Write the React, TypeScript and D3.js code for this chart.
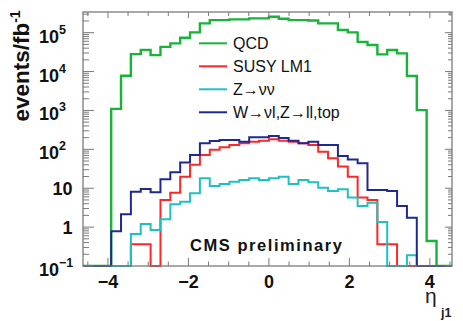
import React from 'react';
import * as d3 from 'd3';

// histogram binning (40 bins over [-4.9, 4.9])
const nBins = 40;
const etaLo = -4.9;
const etaHi = 4.9;

// events / fb^-1 per bin (0 = empty bin)
const qcd = [0, 0, 0, 0, 1100, 7800, 28000, 36000, 26500, 43000, 53000, 74000, 102000, 173000, 210000, 210000, 220000, 220000, 233000, 233000, 256000, 228000, 210000, 210000, 205000, 173000, 173000, 117000, 102000, 58000, 48000, 27700, 35700, 29400, 7660, 1020, 0.44, 0, 0, 0];
const susyLM1 = [0, 0, 0, 0, 0, 0, 0.36, 0.36, 0, 5.0, 7.7, 19.8, 40, 71, 98, 113, 129, 143, 157, 166, 181, 166, 157, 143, 129, 87, 59, 36, 19.8, 5.8, 5.0, 0.36, 0.36, 0, 0, 0, 0, 0, 0, 0];
const zNuNu = [0, 0, 0, 0, 0, 0, 0.67, 1.2, 0.84, 1.6, 3.9, 4.5, 7.4, 18, 11.4, 12.8, 14.7, 16.2, 18, 16.2, 18, 19.8, 12.8, 16.2, 14.2, 10.3, 8.5, 9.4, 5.8, 3.5, 4.2, 1.35, 0, 0, 0.19, 0, 0, 0, 0, 0];
const wzTop = [0, 0, 0, 0, 0.78, 2.15, 8.1, 9.5, 7.85, 16.9, 25.6, 46, 71, 143, 163, 173, 173, 157, 204, 204, 220, 195, 166, 143, 157, 129, 129, 67, 55, 44, 9.0, 9.0, 8.5, 3.5, 1.74, 0, 0, 0, 0, 0];

const seriesNames = ['QCD', 'SUSY LM1', 'Z\u2192\u03bd\u03bd', 'W\u2192\u03bdl,Z\u2192ll,top'];
const seriesColors = ['#19b33a', '#ff2626', '#1fc0bf', '#1e2a8e'];
const seriesData = [qcd, susyLM1, zNuNu, wzTop];

const xTicks = [-4, -2, 0, 2, 4];
const yTicks = [0.1, 1, 10, 100, 1000, 10000, 100000];
const yTickLabels = ['10^-1', '1', '10', '10^2', '10^3', '10^4', '10^5'];

const W = 463;
const H = 321;
const L = 83, R = 452, T = 12, B = 266;
const font = '"Liberation Sans", Arial, Helvetica, sans-serif';
const axisColor = '#7a7a7a';

export default function App() {
  const x = d3.scaleLinear().domain([-4.62, 4.55]).range([L, R]);
  const y = d3.scaleLog().domain([0.1, 3.4e5]).range([B, T]);
  const binW = (etaHi - etaLo) / nBins;

  const line = d3.line<[number, number]>()
    .x(d => x(d[0]))
    .y(d => y(Math.max(d[1], 0.1)));

  const stepPath = (vals: number[]) => {
    const pts: [number, number][] = [];
    vals.forEach((v, i) => {
      pts.push([etaLo + i * binW, v]);
      pts.push([etaLo + (i + 1) * binW, v]);
    });
    return line(pts) || '';
  };

  // log minor ticks
  const yMinor: number[] = [];
  yTicks.forEach(d => {
    for (let m = 2; m <= 9; m++) if (m * d < 3.4e5) yMinor.push(m * d);
  });
  const xMinor = d3.range(-4.5, 4.51, 0.5).filter(v => !xTicks.includes(v));

  return (
    <svg width={W} height={H} style={{ position: 'absolute', left: 0, top: 0, background: '#fff' }}
      fontFamily={font}>
      <defs>
        <clipPath id="frame">
          <rect x={L} y={T - 2} width={R - L} height={B - T + 3} />
        </clipPath>
      </defs>

      {/* histograms */}
      <g clipPath="url(#frame)" fill="none" strokeLinejoin="miter">
        {seriesData.map((s, i) => (
          <path key={i} d={stepPath(s)} stroke={seriesColors[i]} strokeWidth={i === 0 ? 2.4 : 2} />
        ))}
      </g>

      {/* frame */}
      <rect x={L} y={T} width={R - L} height={B - T} fill="none" stroke={axisColor} strokeWidth={1.3} />

      {/* ticks */}
      <g stroke={axisColor} strokeWidth={1}>
        {yTicks.map(t => (
          <g key={'ym' + t}>
            <line x1={L} x2={L + 11} y1={y(t)} y2={y(t)} />
            <line x1={R} x2={R - 7} y1={y(t)} y2={y(t)} />
          </g>
        ))}
        {yMinor.map(t => (
          <g key={'yn' + t}>
            <line x1={L} x2={L + 6} y1={y(t)} y2={y(t)} />
            <line x1={R} x2={R - 4} y1={y(t)} y2={y(t)} />
          </g>
        ))}
        {xTicks.map(t => (
          <g key={'xm' + t}>
            <line x1={x(t)} x2={x(t)} y1={B} y2={B - 8} />
            <line x1={x(t)} x2={x(t)} y1={T} y2={T + 6} />
          </g>
        ))}
        {xMinor.map(t => (
          <g key={'xn' + t}>
            <line x1={x(t)} x2={x(t)} y1={B} y2={B - 4.5} />
            <line x1={x(t)} x2={x(t)} y1={T} y2={T + 4} />
          </g>
        ))}
      </g>

      {/* y tick labels */}
      <g fontWeight="bold" fill="#111">
        {yTicks.map((t, i) => {
          const [base, exp] = yTickLabels[i].split('^');
          if (!exp) {
            return (
              <text key={t} x={72.5} y={y(t) + 6.5} textAnchor="end" fontSize={18}>{base}</text>
            );
          }
          return (
            <text key={t} x={39} y={y(t) + 10} fontSize={18}>
              {base}
              <tspan fontSize={12.5} dy={-9}>{exp.replace('-', '\u2212')}</tspan>
            </text>
          );
        })}
      </g>

      {/* x tick labels */}
      <g fontWeight="bold" fill="#111" fontSize={18} textAnchor="middle">
        {xTicks.map(t => (
          <text key={t} x={x(t)} y={288}>{t < 0 ? '\u2212' + Math.abs(t) : t}</text>
        ))}
      </g>

      {/* axis titles */}
      <text transform="translate(28.5,66) rotate(-90)" textAnchor="middle" fontWeight="bold" fontSize={22.5} fill="#111">
        events/fb<tspan fontSize={14} dy={-9}>-1</tspan>
      </text>
      <text x={425} y={303} fontSize={21} fill="#222">{'\u03b7'}</text>
      <text x={441} y={316.5} fontSize={12.5} fontWeight="bold" fill="#222">j1</text>

      {/* legend */}
      <g fontSize={16} fill="#111">
        {seriesNames.map((n, i) => {
          const ly = 43.3 + i * 23;
          return (
            <g key={n}>
              <line x1={199} x2={227} y1={ly} y2={ly} stroke={seriesColors[i]} strokeWidth={2} />
              <text x={233} y={ly + 5.7}>{n}</text>
            </g>
          );
        })}
      </g>

      <text x={190} y={251} fontSize={16.5} fontWeight="bold" fill="#111" textLength={152} lengthAdjust="spacing">
        CMS preliminary
      </text>
    </svg>
  );
}
